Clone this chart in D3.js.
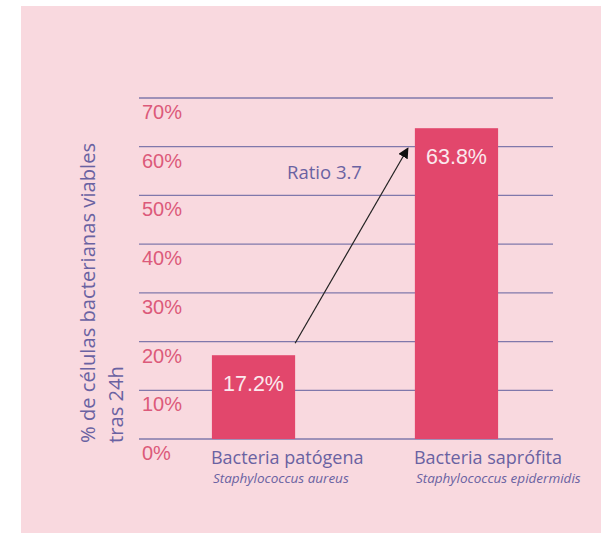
<!DOCTYPE html>
<html><head><meta charset="utf-8">
<script src="https://cdn.jsdelivr.net/npm/d3@7"></script>
<style>body{margin:0;background:#fff}svg{display:block}</style>
</head><body>
<svg id="c" width="601" height="533"></svg>
<script>
const categories = ["Bacteria patógena", "Bacteria saprófita"];
const species = ["Staphylococcus aureus", "Staphylococcus epidermidis"];
const values = [17.2, 63.8];
const tickValues = [0, 10, 20, 30, 40, 50, 60, 70];
const ratioLabel = "Ratio 3.7";
const yTitle = ["% de células bacterianas viables", "tras 24h"];

const svg = d3.select("#c");
svg.append("rect").attr("x", 21).attr("y", 6).attr("width", 580).attr("height", 527).attr("fill", "#f9d9df");

const y = d3.scaleLinear().domain([0, 70]).range([439, 98]);
const x = d3.scaleBand().domain(categories).range([150, 560]).paddingInner(0.59).paddingOuter(0.305);

// gridlines
svg.append("g").selectAll("line").data(tickValues).join("line")
  .attr("x1", 139).attr("x2", 553)
  .attr("y1", d => y(d)).attr("y2", d => y(d))
  .attr("stroke", "#8078ab").attr("stroke-width", 1.3);

// tick labels
svg.append("g").selectAll("text").data(tickValues).join("text")
  .attr("x", 142).attr("y", d => y(d) + 21)
  .attr("font-family", "Liberation Sans, Arial, sans-serif").attr("font-size", 20)
  .attr("fill", "#dc5a7a").text(d => d + "%");

// bars
svg.append("g").selectAll("rect").data(values).join("rect")
  .attr("x", (d, i) => x(categories[i])).attr("width", x.bandwidth())
  .attr("y", d => y(d)).attr("height", d => y(0) - y(d))
  .attr("fill", "#e2476c");

// value labels
svg.append("g").selectAll("text").data(values).join("text")
  .attr("x", (d, i) => x(categories[i]) + x.bandwidth() / 2)
  .attr("y", d => y(d) + 36)
  .attr("text-anchor", "middle")
  .attr("font-family", "Liberation Sans, Arial, sans-serif").attr("font-size", 21.5)
  .attr("fill", "#fbe9ee").text(d => d.toFixed(1) + "%");

// category labels
const cl = svg.append("g");
categories.forEach((c, i) => {
  cl.append("text").attr("x", x(c) - 1).attr("y", 464)
    .attr("font-family", "Open Sans, sans-serif").attr("font-size", 18)
    .attr("fill", "#6a62a2").text(c);
  cl.append("text").attr("x", x(c) + 1).attr("y", 483)
    .attr("font-family", "Open Sans, sans-serif").attr("font-style", "italic").attr("font-size", 13.5)
    .attr("fill", "#6a62a2").text(species[i]);
});

// y title
yTitle.forEach((t, i) => {
  svg.append("text")
    .attr("transform", `translate(${95 + i * 28},443) rotate(-90)`)
    .attr("font-family", "Open Sans, sans-serif").attr("font-size", 20.2)
    .attr("fill", "#6a62a2").text(t);
});

// arrow
svg.append("defs").append("marker").attr("id", "ah")
  .attr("viewBox", "0 0 10 10").attr("refX", 9).attr("refY", 5)
  .attr("markerWidth", 9).attr("markerHeight", 9).attr("orient", "auto")
  .append("path").attr("d", "M0,0 L10,5 L0,10 z").attr("fill", "#111");
const x1 = x(categories[0]) + x.bandwidth(), y1 = y(values[0]) - 12;
const x2 = x(categories[1]) - 7, y2 = y(values[1]) + 20;
svg.append("line").attr("x1", x1).attr("y1", y1).attr("x2", x2).attr("y2", y2)
  .attr("stroke", "#222").attr("stroke-width", 1.2).attr("marker-end", "url(#ah)");

svg.append("text").attr("x", 287).attr("y", 179)
  .attr("font-family", "Open Sans, sans-serif").attr("font-size", 18.5)
  .attr("fill", "#6a62a2").text(ratioLabel);
</script>
</body></html>
